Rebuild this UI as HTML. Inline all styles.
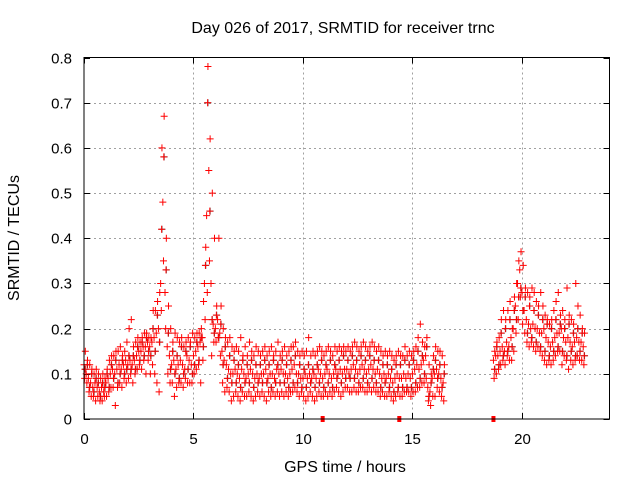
<!DOCTYPE html>
<html><head><meta charset="utf-8"><style>
body{margin:0;background:#fff;}
svg{display:block;font-family:"Liberation Sans",sans-serif;}
</style></head><body>
<svg id="chart" width="640" height="480" viewBox="0 0 640 480" xmlns="http://www.w3.org/2000/svg">
<text x="343" y="33" font-size="16" text-anchor="middle" fill="#000">Day 026 of 2017, SRMTID for receiver trnc</text>
<text x="345" y="472" font-size="16" text-anchor="middle" fill="#000">GPS time / hours</text>
<text x="19" y="238" font-size="16" text-anchor="middle" fill="#000" transform="rotate(-90 19 238)">SRMTID / TECUs</text>
<g id="grid"></g><g id="axes"></g><g id="marks"></g>
<rect x="84" y="57.5" width="525.5" height="361.5" fill="none" stroke="#000" stroke-width="1"/>
</svg>
<script>
const xTicks=[0,5,10,15,20];
const yTicks=[0,0.1,0.2,0.3,0.4,0.5,0.6,0.7,0.8];
const yTickLabels=["0","0.1","0.2","0.3","0.4","0.5","0.6","0.7","0.8"];
const seg1Start=0.0, seg2Start=18.7, step=0.1;
const srmtidA=[.12,.10,.09,.08,.07,.08,.07,.06,.07,.06,
.08,.09,.10,.11,.10,.11,.12,.11,.12,.13,
.12,.13,.12,.13,.14,.15,.15,.16,.16,.17,
.16,.17,.18,.19,.20,.30,.48,.28,.16,.14,
.12,.13,.11,.12,.13,.12,.11,.14,.13,.12,
.14,.15,.16,.17,.18,.30,.45,.55,.30,.21,
.20,.22,.19,.15,.13,.12,.11,.10,.10,.11,
.10,.09,.11,.10,.09,.10,.11,.10,.09,.10,
.09,.10,.10,.11,.09,.10,.10,.09,.11,.10,
.11,.10,.10,.09,.10,.11,.12,.10,.10,.09,
.09,.10,.09,.10,.09,.10,.09,.11,.10,.09,
.10,.11,.10,.09,.10,.11,.10,.11,.10,.11,
.11,.10,.11,.12,.11,.10,.11,.12,.11,.10,
.11,.12,.11,.10,.11,.10,.09,.10,.09,.10,
.09,.08,.09,.10,.09,.09,.10,.09,.10,.09,
.10,.11,.12,.11,.12,.13,.14,.07,.06,.09,
.10,.11,.10,.09,.08];
const srmtidB=[.09,.08,.06,.05,.05,.04,.05,.04,.04,.05,
.05,.06,.07,.07,.03,.07,.08,.07,.09,.08,
.09,.10,.08,.10,.11,.12,.11,.13,.10,.13,
.10,.12,.10,.08,.06,.24,.35,.20,.10,.08,
.08,.05,.07,.08,.08,.07,.09,.08,.08,.08,
.10,.11,.12,.08,.13,.22,.28,.35,.14,.17,
.17,.18,.14,.08,.06,.07,.06,.04,.05,.06,
.05,.04,.06,.05,.05,.06,.05,.04,.05,.06,
.05,.06,.05,.04,.06,.05,.06,.05,.06,.05,
.06,.05,.06,.05,.06,.06,.07,.06,.05,.06,
.05,.04,.05,.06,.05,.04,.05,.06,.05,.05,
.06,.05,.06,.05,.06,.07,.06,.05,.06,.07,
.07,.06,.06,.07,.06,.06,.07,.07,.06,.06,
.07,.06,.07,.06,.06,.05,.06,.05,.05,.06,
.05,.04,.05,.06,.05,.05,.06,.06,.06,.05,
.06,.06,.07,.07,.08,.08,.09,.04,.03,.05,
.05,.07,.06,.05,.04];
const srmtidC=[.15,.13,.12,.11,.10,.11,.10,.09,.10,.09,
.11,.13,.14,.14,.15,.15,.16,.14,.15,.17,
.20,.22,.16,.17,.18,.17,.18,.19,.19,.18,
.18,.24,.24,.26,.28,.60,.67,.40,.25,.20,
.17,.19,.18,.17,.18,.16,.17,.18,.17,.19,
.18,.19,.19,.20,.26,.38,.78,.62,.50,.40,
.25,.40,.25,.20,.18,.17,.18,.16,.15,.16,
.15,.18,.14,.16,.14,.17,.15,.14,.16,.15,
.14,.15,.16,.14,.15,.16,.14,.15,.17,.14,
.15,.16,.14,.15,.16,.16,.17,.15,.14,.15,
.14,.15,.18,.14,.15,.14,.15,.16,.15,.14,
.15,.16,.15,.14,.16,.15,.16,.15,.16,.15,
.16,.15,.16,.17,.16,.15,.16,.17,.16,.15,
.16,.17,.16,.15,.16,.15,.14,.15,.14,.15,
.14,.13,.14,.15,.14,.14,.16,.14,.15,.14,
.15,.16,.18,.21,.17,.16,.18,.12,.10,.14,
.16,.15,.15,.14,.12];
const srmtidD=[.11,.12,.07,.10,.06,.09,.08,.05,.08,.07,
.10,.07,.12,.09,.13,.08,.10,.13,.10,.11,
.14,.11,.14,.11,.16,.13,.17,.14,.18,.15,
.14,.20,.15,.23,.17,.42,.58,.33,.19,.11,
.15,.10,.14,.09,.16,.10,.15,.11,.16,.10,
.12,.17,.13,.18,.16,.34,.70,.46,.22,.19,
.23,.18,.21,.12,.16,.09,.14,.08,.13,.08,
.12,.07,.13,.08,.12,.08,.13,.07,.12,.08,
.12,.08,.13,.08,.12,.07,.13,.08,.12,.08,
.13,.08,.12,.07,.13,.08,.14,.08,.12,.07,
.11,.07,.12,.08,.11,.07,.12,.08,.13,.07,
.12,.08,.13,.07,.12,.09,.13,.08,.14,.09,
.13,.09,.14,.09,.13,.08,.14,.09,.13,.08,
.14,.09,.13,.08,.13,.07,.12,.08,.12,.07,
.11,.06,.12,.07,.12,.07,.13,.07,.12,.07,
.13,.08,.15,.09,.14,.10,.16,.05,.08,.11,
.13,.09,.12,.07,.10];
const seg2A=[.13,.14,.14,.15,.16,.15,.17,.16,.18,.20,
.25,.30,.33,.28,.24,.22,.21,.20,.21,.20,
.20,.19,.19,.20,.18,.17,.16,.17,.18,.19,
.19,.20,.18,.17,.18,.17,.16,.17,.18,.17,.17,.16];
const seg2B=[.09,.10,.11,.12,.13,.12,.14,.13,.13,.15,
.19,.22,.27,.21,.19,.17,.16,.17,.16,.15,
.16,.15,.14,.13,.12,.13,.12,.13,.14,.15,
.15,.12,.14,.13,.11,.13,.12,.13,.14,.13,.13,.12];
const seg2C=[.15,.17,.18,.22,.24,.22,.24,.26,.20,.27,
.30,.35,.37,.34,.29,.28,.27,.29,.28,.26,
.25,.28,.25,.23,.22,.21,.22,.24,.26,.28,
.23,.24,.22,.29,.23,.22,.21,.30,.25,.23,.20,.19];
const seg2D=[.11,.16,.12,.19,.14,.20,.15,.22,.16,.24,
.22,.27,.29,.24,.27,.19,.25,.18,.24,.17,
.23,.16,.22,.15,.21,.14,.20,.15,.22,.16,
.21,.15,.20,.14,.21,.15,.19,.14,.20,.15,.19,.14];
const markerHours=[10.9,14.4,18.7];

const X0=84,X1=609.5,Y0=419,Y1=57.5,XMAX=24,YMAX=0.8;
const sx=h=>X0+h/XMAX*(X1-X0);
const sy=v=>Y0-v/YMAX*(Y0-Y1);
const NS="http://www.w3.org/2000/svg";
function mk(tag,attrs,parent){const e=document.createElementNS(NS,tag);for(const k in attrs)e.setAttribute(k,attrs[k]);parent.appendChild(e);return e;}
const grid=document.getElementById('grid'),axes=document.getElementById('axes'),marks=document.getElementById('marks');
yTicks.forEach((v,i)=>{const y=Math.round(sy(v))+0.5;
 if(i>0&&i<yTicks.length-1){const g=mk('line',{x1:X0,x2:X1,y1:y,y2:y,stroke:'#a0a0a0','stroke-dasharray':'2,3'},grid);
 
 }
 const t1=mk('line',{x1:X0,x2:X0+6,y1:y,y2:y,stroke:'#000'},axes);
 
 
 const t2=mk('line',{x1:X1-6,x2:X1,y1:y,y2:y,stroke:'#000'},axes);
 
 
 const l=mk('text',{x:X0-12,y:y+5,'font-size':15,'text-anchor':'end',fill:'#000'},axes);l.textContent=yTickLabels[i];
 
 });
xTicks.forEach(h=>{const x=Math.round(sx(h))+0.5;
 if(h>0){const g=mk('line',{x1:x,x2:x,y1:Y1,y2:Y0,stroke:'#a0a0a0','stroke-dasharray':'2,3'},grid);
 
 }
 const t1=mk('line',{x1:x,x2:x,y1:Y0-6,y2:Y0,stroke:'#000'},axes);
 
 
 const t2=mk('line',{x1:x,x2:x,y1:Y1,y2:Y1+6,stroke:'#000'},axes);
 
 
 const l=mk('text',{x:x,y:444,'font-size':15,'text-anchor':'middle',fill:'#000'},axes);l.textContent=String(h);
 
 });
function cross(h,v,color){const x=sx(h),y=sy(v);
 const p=mk('path',{d:`M${x-3.5},${y}H${x+3.5}M${x},${y-3.5}V${y+3.5}`,stroke:color,'stroke-width':1,fill:'none'},marks);
 
 }
function plotSeries(start,arr,off,color){arr.forEach((v,i)=>cross(start+i*step+off,v,color));}
plotSeries(seg1Start,srmtidD,0.06,'#444');
plotSeries(seg2Start,seg2D,0.06,'#444');
[[srmtidA,0],[srmtidB,0.03],[srmtidC,0.06],[srmtidD,0.045]].forEach(([a,o])=>plotSeries(seg1Start,a,o,'#f00'));
[[seg2A,0],[seg2B,0.03],[seg2C,0.06],[seg2D,0.045]].forEach(([a,o])=>plotSeries(seg2Start,a,o,'#f00'));
markerHours.forEach(h=>{const r=mk('rect',{x:sx(h)-2,y:Y0-3,width:4,height:6,fill:'#f00'},marks);
 
 });
</script>
</body></html>
